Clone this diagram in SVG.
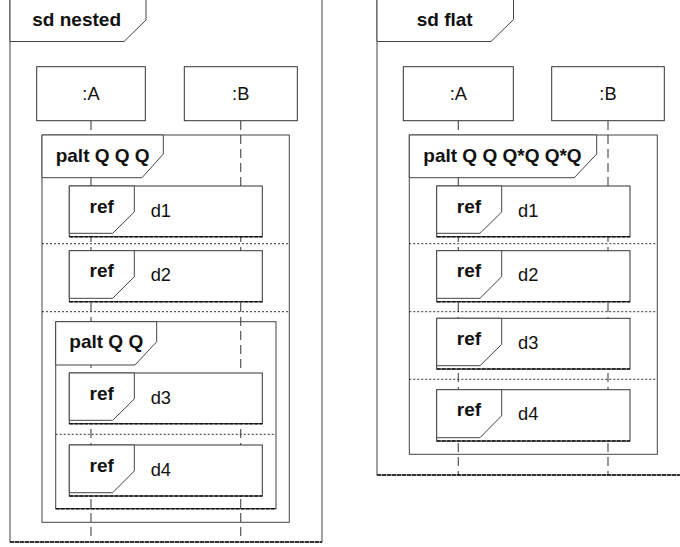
<svg xmlns="http://www.w3.org/2000/svg" width="680" height="547" viewBox="0 0 680 547">
<style>
.frame{fill:none;stroke:#444;stroke-width:1}
.box{fill:#fff;stroke:#333;stroke-width:1}
.lab{fill:#fff;stroke:#444;stroke-width:1}
.bot{stroke:#111;stroke-width:1.6;stroke-dasharray:4,1;fill:none}
.sep{stroke:#333;stroke-width:1;stroke-dasharray:2,2;fill:none}
.life{stroke:#555;stroke-width:1.2;stroke-dasharray:9,5;fill:none}
.b{font-family:"Liberation Sans",Arial,sans-serif;font-weight:bold;font-size:19px;fill:#111}
.r{font-family:"Liberation Sans",Arial,sans-serif;font-size:18.3px;fill:#111}
</style>
<rect width="680" height="547" fill="#fff"/>

<!-- Left diagram -->
<g id="frame-nested">
<rect class="frame" x="10" y="-5" width="312" height="547"/>
<line class="bot" x1="10" y1="542" x2="322" y2="542"/>
<path class="lab" d="M10,-5 H146 V20 L124,41.5 H10 Z"/>
<text class="b" x="32.3" y="26">sd nested</text>
</g>
<g id="connectors">
<line class="life" x1="91" y1="121" x2="91" y2="542"/>
<line class="life" x1="240.7" y1="121" x2="240.7" y2="542"/>
<line class="life" x1="458.3" y1="121" x2="458.3" y2="475"/>
<line class="life" x1="608" y1="121" x2="608" y2="475"/>
</g>
<g id="nA1">
<rect class="box" x="36.7" y="66.7" width="108.6" height="54"/>
<text class="r" x="91" y="100" text-anchor="middle">:A</text>
</g>
<g id="nB1">
<rect class="box" x="184.3" y="66.7" width="113" height="54"/>
<text class="r" x="240.7" y="100" text-anchor="middle">:B</text>
</g>
<g id="palt-outer">
<rect class="frame" x="42" y="135" width="247.3" height="387.3"/>
<line class="sep" x1="42" y1="243.7" x2="289.3" y2="243.7"/>
<line class="sep" x1="42" y1="311.7" x2="289.3" y2="311.7"/>
<path class="lab" d="M42,135 H163.3 V154 L142,177.7 H42 Z"/>
<text class="b" x="55.7" y="162.3">palt Q Q Q</text>
</g>
<g id="palt-inner">
<rect class="frame" x="55.7" y="321.7" width="220.3" height="187"/>
<line class="bot" x1="55.7" y1="508.7" x2="276" y2="508.7"/>
<line class="sep" x1="55.7" y1="434.3" x2="276" y2="434.3"/>
<path class="lab" d="M55.7,321.7 H156.7 V341.7 L135,365 H55.7 Z"/>
<text class="b" x="69.3" y="348.3">palt Q Q</text>
</g>
<g id="ref1-d1">
<rect class="box" x="69.3" y="186" width="193" height="50.7"/>
<line class="bot" x1="69.3" y1="236.7" x2="262.3" y2="236.7"/>
<path class="lab" d="M69.3,186 H134.3 V212 L112.7,233.3 H69.3 Z"/>
<text class="b" x="101.7" y="212.7" text-anchor="middle">ref</text>
<text class="r" x="150.7" y="216.7">d1</text>
</g>
<g id="ref1-d2">
<rect class="box" x="69.3" y="250.7" width="193" height="51"/>
<line class="bot" x1="69.3" y1="301.7" x2="262.3" y2="301.7"/>
<path class="lab" d="M69.3,250.7 H134.3 V276.7 L112.7,298.3 H69.3 Z"/>
<text class="b" x="101.7" y="277.4" text-anchor="middle">ref</text>
<text class="r" x="150.7" y="281.4">d2</text>
</g>
<g id="ref1-d3">
<rect class="box" x="69.3" y="373" width="193" height="50.7"/>
<line class="bot" x1="69.3" y1="423.7" x2="262.3" y2="423.7"/>
<path class="lab" d="M69.3,373 H134.3 V399 L112.7,420.3 H69.3 Z"/>
<text class="b" x="101.7" y="399.7" text-anchor="middle">ref</text>
<text class="r" x="150.7" y="403.7">d3</text>
</g>
<g id="ref1-d4">
<rect class="box" x="69.3" y="445" width="193" height="51"/>
<line class="bot" x1="69.3" y1="496" x2="262.3" y2="496"/>
<path class="lab" d="M69.3,445 H134.3 V471 L112.7,492.7 H69.3 Z"/>
<text class="b" x="101.7" y="471.7" text-anchor="middle">ref</text>
<text class="r" x="150.7" y="475.7">d4</text>
</g>

<!-- Right diagram -->
<g id="frame-flat">
<rect class="frame" x="377" y="-5" width="320" height="480"/>
<line class="bot" x1="377" y1="475" x2="680" y2="475"/>
<path class="lab" d="M377,-5 H513.5 V19.5 L491,41.5 H377 Z"/>
<text class="b" x="416.7" y="26">sd flat</text>
</g>
<g id="nA2">
<rect class="box" x="403.3" y="66.7" width="110" height="54"/>
<text class="r" x="458.3" y="100" text-anchor="middle">:A</text>
</g>
<g id="nB2">
<rect class="box" x="551.7" y="66.7" width="112.6" height="54"/>
<text class="r" x="608" y="100" text-anchor="middle">:B</text>
</g>
<g id="palt-flat">
<rect class="frame" x="409.3" y="135" width="248" height="319.3"/>
<line class="sep" x1="409.3" y1="243.7" x2="657.3" y2="243.7"/>
<line class="sep" x1="409.3" y1="311.7" x2="657.3" y2="311.7"/>
<line class="sep" x1="409.3" y1="379.3" x2="657.3" y2="379.3"/>
<path class="lab" d="M409.3,135 H596.7 V154 L574.3,177.7 H409.3 Z"/>
<text class="b" x="423.3" y="162.3">palt Q Q Q*Q Q*Q</text>
</g>
<g id="ref2-d1">
<rect class="box" x="436.7" y="186" width="193.3" height="50.7"/>
<line class="bot" x1="436.7" y1="236.7" x2="630" y2="236.7"/>
<path class="lab" d="M436.7,186 H501.7 V212 L480,233.3 H436.7 Z"/>
<text class="b" x="469" y="212.7" text-anchor="middle">ref</text>
<text class="r" x="518" y="216.7">d1</text>
</g>
<g id="ref2-d2">
<rect class="box" x="436.7" y="250.7" width="193.3" height="51"/>
<line class="bot" x1="436.7" y1="301.7" x2="630" y2="301.7"/>
<path class="lab" d="M436.7,250.7 H501.7 V276.7 L480,298.3 H436.7 Z"/>
<text class="b" x="469" y="277.4" text-anchor="middle">ref</text>
<text class="r" x="518" y="281.4">d2</text>
</g>
<g id="ref2-d3">
<rect class="box" x="436.7" y="318.3" width="193.3" height="50.7"/>
<line class="bot" x1="436.7" y1="369" x2="630" y2="369"/>
<path class="lab" d="M436.7,318.3 H501.7 V344.3 L480,365.7 H436.7 Z"/>
<text class="b" x="469" y="345" text-anchor="middle">ref</text>
<text class="r" x="518" y="349">d3</text>
</g>
<g id="ref2-d4">
<rect class="box" x="436.7" y="389.7" width="193.3" height="51.3"/>
<line class="bot" x1="436.7" y1="441" x2="630" y2="441"/>
<path class="lab" d="M436.7,389.7 H501.7 V415.7 L480,437.7 H436.7 Z"/>
<text class="b" x="469" y="416.4" text-anchor="middle">ref</text>
<text class="r" x="518" y="420.4">d4</text>
</g>
</svg>
